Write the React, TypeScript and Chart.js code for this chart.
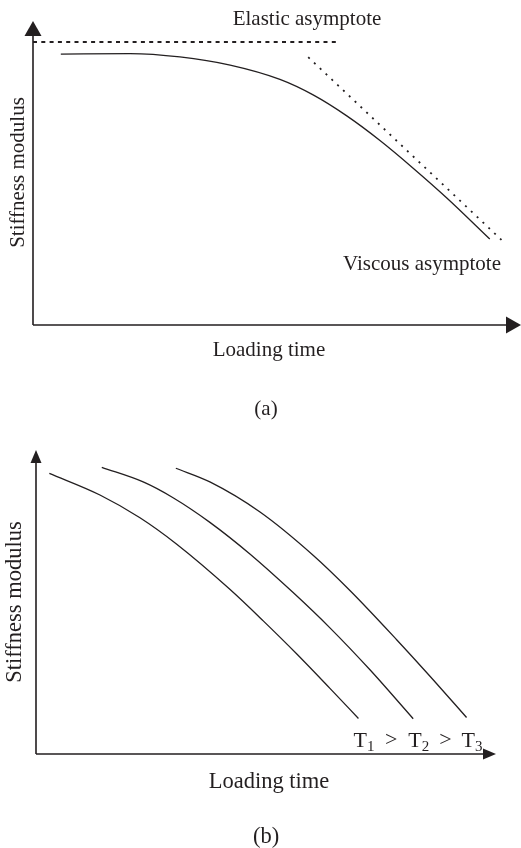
import React, { useEffect, useRef } from "react";
import { Chart, registerables } from "chart.js";

Chart.register(...registerables);

// ---------- Panel (a) data (arbitrary units: loading time 0-100, stiffness 0-100) ----------
const curveA_time = [5.7, 19.9, 30.1, 40.4, 50.6, 57.4, 64.3, 71.1, 77.9, 84.8, 93.6];
const curveA_stiff = [89.1, 89.3, 88.2, 85.5, 80.8, 75.7, 68.8, 60.7, 51.6, 41.8, 28.3];
const elastic_time = [0, 62.5];
const elastic_stiff = [93.1, 93.1];
const viscous_time = [56.4, 96.0];
const viscous_stiff = [88.1, 28.0];

// ---------- Panel (b) data ----------
const t1_time = [2.9, 13.9, 22.6, 30.6, 42.2, 49.4, 56.7, 63.9, 70.1];
const t1_stiff = [92.3, 85.2, 77.7, 69.0, 54.1, 43.8, 32.9, 21.6, 11.7];
const t2_time = [14.3, 23.3, 29.8, 37.8, 46.5, 55.9, 63.9, 72.6, 82.0];
const t2_stiff = [94.3, 89.5, 84.3, 76.2, 65.8, 53.1, 41.5, 27.7, 11.6];
const t3_time = [30.4, 37.8, 48.7, 60.3, 68.3, 78.4, 85.7, 93.6];
const t3_stiff = [94.0, 89.5, 79.6, 65.3, 53.7, 37.6, 25.5, 12.0];
const tempSubscripts = ["1", "2", "3"];

// ---------- Labels ----------
const yTitle = "Stiffness modulus";
const xTitle = "Loading time";
const elasticLabel = "Elastic asymptote";
const viscousLabel = "Viscous asymptote";
const captionA = "(a)";
const captionB = "(b)";

const ink = "#231f20";
const serif = '"Liberation Serif", "Times New Roman", serif';

const pts = (xs: number[], ys: number[]) => xs.map((x, i) => ({ x, y: ys[i] }));

function drawAxes(ctx: CanvasRenderingContext2D, area: any, half: number, len: number, lw: number) {
  ctx.save();
  ctx.strokeStyle = ink;
  ctx.fillStyle = ink;
  ctx.lineWidth = lw;
  ctx.beginPath();
  ctx.moveTo(area.left, area.bottom);
  ctx.lineTo(area.left, area.top + len);
  ctx.moveTo(area.left, area.bottom);
  ctx.lineTo(area.right - len, area.bottom);
  ctx.stroke();
  ctx.beginPath();
  ctx.moveTo(area.left, area.top);
  ctx.lineTo(area.left - half, area.top + len);
  ctx.lineTo(area.left + half, area.top + len);
  ctx.closePath();
  ctx.fill();
  ctx.beginPath();
  ctx.moveTo(area.right, area.bottom);
  ctx.lineTo(area.right - len, area.bottom - half);
  ctx.lineTo(area.right - len, area.bottom + half);
  ctx.closePath();
  ctx.fill();
  ctx.restore();
}

function rotatedText(ctx: CanvasRenderingContext2D, text: string, x: number, y: number) {
  ctx.save();
  ctx.translate(x, y);
  ctx.rotate(-Math.PI / 2);
  ctx.textAlign = "center";
  ctx.textBaseline = "alphabetic";
  ctx.fillText(text, 0, 0);
  ctx.restore();
}

const panelAPlugin = {
  id: "panelA",
  afterDraw(chart: any) {
    const { ctx, chartArea } = chart;
    drawAxes(ctx, chartArea, 8.5, 15, 1.6);
    ctx.save();
    ctx.fillStyle = ink;
    ctx.font = `21px ${serif}`;
    ctx.textBaseline = "alphabetic";
    ctx.textAlign = "center";
    ctx.fillText(elasticLabel, 307, 25);
    ctx.fillText(xTitle, 269, 356);
    ctx.fillText(captionA, 266, 415);
    ctx.textAlign = "left";
    ctx.fillText(viscousLabel, 343, 270);
    rotatedText(ctx, yTitle, 24, 172.5);
    ctx.restore();
  },
};

const panelBPlugin = {
  id: "panelB",
  afterDraw(chart: any) {
    const { ctx, chartArea } = chart;
    drawAxes(ctx, chartArea, 5.5, 13, 1.6);
    ctx.save();
    ctx.fillStyle = ink;
    ctx.font = `22.5px ${serif}`;
    ctx.textBaseline = "alphabetic";
    ctx.textAlign = "center";
    ctx.fillText(xTitle, 269, 368);
    ctx.fillText(captionB, 266, 423);
    rotatedText(ctx, yTitle, 21, 182);

    // T labels under curve ends
    const xs = chart.scales.x;
    const ends = [t1_time, t2_time, t3_time].map((a) => a[a.length - 1]);
    const baseY = 327;
    const spans: [number, number][] = [];
    ends.forEach((t, i) => {
      const x0 = xs.getPixelForValue(t) - 5;
      ctx.textAlign = "left";
      ctx.font = `22px ${serif}`;
      ctx.fillText("T", x0, baseY);
      const wT = ctx.measureText("T").width;
      ctx.font = `15px ${serif}`;
      ctx.fillText(tempSubscripts[i], x0 + wT, baseY + 4);
      const wS = ctx.measureText(tempSubscripts[i]).width;
      spans.push([x0, x0 + wT + wS]);
    });
    ctx.font = `22px ${serif}`;
    ctx.textAlign = "center";
    for (let i = 0; i < spans.length - 1; i++) {
      const mid = (spans[i][1] + spans[i + 1][0]) / 2;
      ctx.fillText(">", mid, baseY - 1);
    }
    ctx.restore();
  },
};

const lineBase = {
  showLine: true,
  pointRadius: 0,
  borderColor: ink,
  backgroundColor: ink,
  fill: false,
};

const scaleOpts = {
  x: { type: "linear" as const, min: 0, max: 100, display: false },
  y: { type: "linear" as const, min: 0, max: 100, display: false },
};

export default function App() {
  const refA = useRef<HTMLCanvasElement>(null);
  const refB = useRef<HTMLCanvasElement>(null);

  useEffect(() => {
    const smooth = { borderWidth: 1.3, cubicInterpolationMode: "monotone" };
    const chartA = new Chart(refA.current as HTMLCanvasElement, {
      type: "scatter",
      data: {
        datasets: [
          { ...lineBase, ...smooth, data: pts(curveA_time, curveA_stiff) } as any,
          { ...lineBase, data: pts(elastic_time, elastic_stiff), borderWidth: 2, borderDash: [4, 4.3] } as any,
          { ...lineBase, data: pts(viscous_time, viscous_stiff), borderWidth: 1.8, borderDash: [2, 6] } as any,
        ],
      },
      options: {
        responsive: false,
        animation: false,
        devicePixelRatio: 1,
        layout: { padding: { left: 33, top: 21, right: 0, bottom: 95 } },
        scales: scaleOpts,
        plugins: { legend: { display: false }, tooltip: { enabled: false } },
      },
      plugins: [panelAPlugin],
    });

    const chartB = new Chart(refB.current as HTMLCanvasElement, {
      type: "scatter",
      data: {
        datasets: [
          { ...lineBase, ...smooth, data: pts(t1_time, t1_stiff) } as any,
          { ...lineBase, ...smooth, data: pts(t2_time, t2_stiff) } as any,
          { ...lineBase, ...smooth, data: pts(t3_time, t3_stiff) } as any,
        ],
      },
      options: {
        responsive: false,
        animation: false,
        devicePixelRatio: 1,
        layout: { padding: { left: 36, top: 30, right: 25, bottom: 94 } },
        scales: scaleOpts,
        plugins: { legend: { display: false }, tooltip: { enabled: false } },
      },
      plugins: [panelBPlugin],
    });

    return () => {
      chartA.destroy();
      chartB.destroy();
    };
  }, []);

  return (
    <div style={{ position: "absolute", left: 0, top: 0, width: 521, height: 848, background: "#fff" }}>
      <canvas ref={refA} width={521} height={420} style={{ display: "block", width: 521, height: 420 }} />
      <canvas ref={refB} width={521} height={428} style={{ display: "block", width: 521, height: 428 }} />
    </div>
  );
}
